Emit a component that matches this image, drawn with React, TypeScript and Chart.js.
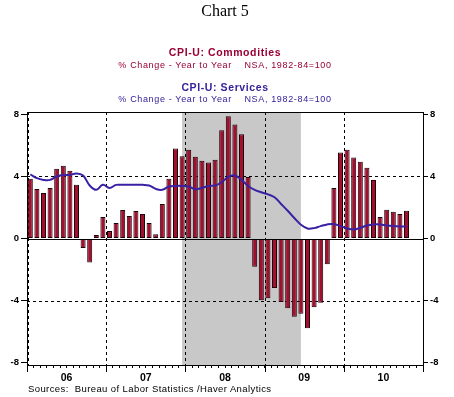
import React, { useEffect, useRef } from "react";
import { Chart, registerables } from "chart.js";

Chart.register(...registerables);

// ---- data ----
const years = ["06", "07", "08", "09", "10"];
const monthNames = ["Jan", "Feb", "Mar", "Apr", "May", "Jun", "Jul", "Aug", "Sep", "Oct", "Nov", "Dec"];

// CPI-U Commodities, % change year to year (Jan 2006 .. Oct 2010)
const commodities = [
  3.85, 3.2, 2.94, 3.26, 4.5, 4.69, 4.37, 3.46, -0.62, -1.55, 0.22, 1.38,
  0.48, 1.0, 1.84, 1.45, 1.77, 1.58, 1.0, 0.28, 2.23, 3.85, 5.8, 5.3,
  5.73, 5.28, 5.02, 4.91, 5.08, 6.98, 7.89, 7.35, 6.72, 3.96, -1.83, -3.98,
  -3.85, -3.2, -4.09, -4.5, -5.05, -4.86, -5.79, -4.43, -4.15, -1.66, 3.26, 5.54,
  5.73, 5.23, 4.95, 4.56, 3.78, 1.38, 1.86, 1.73, 1.58, 1.79,
];

// CPI-U Services, % change year to year (Jan 2006 .. Oct 2010)
const services = [
  4.13, 3.89, 3.78, 3.78, 4.0, 4.1, 4.1, 4.2, 4.06, 3.42, 3.14, 3.46,
  3.26, 3.46, 3.46, 3.46, 3.46, 3.46, 3.42, 3.2, 3.14, 3.35, 3.39, 3.39,
  3.35, 3.18, 3.26, 3.39, 3.42, 3.63, 3.98, 4.07, 3.78, 3.39, 3.14, 2.98,
  2.85, 2.66, 2.23, 1.79, 1.32, 0.89, 0.65, 0.67, 0.8, 0.91, 0.93, 0.8,
  0.65, 0.58, 0.69, 0.84, 0.91, 0.91, 0.84, 0.8, 0.78, 0.78,
];

const yTicks = [-8, -4, 0, 4, 8];
const dashedLevels = [4, -4];
// recession shading: Dec 2007 .. Jun 2009 (month midpoints)
const recessionStart = "Dec 07";
const recessionEnd = "Jun 09";

const categories: string[] = [];
years.forEach((yy) => monthNames.forEach((m) => categories.push(m + " " + yy)));

const pad = (arr: number[]) => categories.map((_, i) => (i < arr.length ? arr[i] : null));

const BAR = "#a21030";
const LINE = "#3a20a5";
const tickFont = { family: "'Liberation Sans', Arial, sans-serif", size: 9.5, weight: "bold" as const };

const decor = {
  id: "decor",
  beforeDatasetsDraw(chart: any) {
    const { ctx, chartArea: a, scales } = chart;
    const x = scales.x;
    const y = scales.y;
    const slot = (a.right - a.left) / categories.length;
    ctx.save();
    // recession shading
    const xs = x.getPixelForValue(categories.indexOf(recessionStart));
    const xe = x.getPixelForValue(categories.indexOf(recessionEnd));
    ctx.fillStyle = "#c8c8c8";
    ctx.fillRect(xs, a.top, xe - xs, a.bottom - a.top);
    // dashed grid
    ctx.strokeStyle = "#000";
    ctx.lineWidth = 1;
    ctx.setLineDash([3, 3]);
    dashedLevels.forEach((v) => {
      const py = Math.round(y.getPixelForValue(v)) + 0.5;
      ctx.beginPath();
      ctx.moveTo(a.left, py);
      ctx.lineTo(a.right, py);
      ctx.stroke();
    });
    years.forEach((_, k) => {
      let px = Math.round(a.left + k * 12 * slot) + 0.5;
      if (k === 0) px += 1;
      ctx.beginPath();
      ctx.moveTo(px, a.top);
      ctx.lineTo(px, a.bottom);
      ctx.stroke();
    });
    ctx.restore();
  },
  afterDatasetsDraw(chart: any) {
    const { ctx, chartArea: a, scales } = chart;
    const y = scales.y;
    const slot = (a.right - a.left) / categories.length;
    ctx.save();
    ctx.strokeStyle = "#000";
    ctx.lineWidth = 1;
    ctx.setLineDash([]);
    // zero line
    const zy = Math.round(y.getPixelForValue(0)) + 0.5;
    ctx.beginPath();
    ctx.moveTo(a.left, zy);
    ctx.lineTo(a.right, zy);
    ctx.stroke();
    // top border
    ctx.beginPath();
    ctx.moveTo(a.left, Math.round(a.top) + 0.5);
    ctx.lineTo(a.right, Math.round(a.top) + 0.5);
    ctx.stroke();
    // long year ticks
    for (let k = 0; k <= years.length; k++) {
      const px = Math.round(a.left + k * 12 * slot) + 0.5;
      ctx.beginPath();
      ctx.moveTo(px, a.bottom);
      ctx.lineTo(px, a.bottom + 7);
      ctx.stroke();
    }
    ctx.restore();
  },
};

export default function App() {
  const ref = useRef<HTMLCanvasElement | null>(null);

  useEffect(() => {
    if (!ref.current) return;
    const chart = new Chart(ref.current, {
      type: "bar",
      data: {
        labels: categories,
        datasets: [
          {
            type: "line",
            label: "CPI-U: Services",
            data: pad(services),
            borderColor: LINE,
            borderWidth: 2,
            pointRadius: 0,
            tension: 0.4,
            fill: false,
            order: 0,
          } as any,
          {
            type: "bar",
            label: "CPI-U: Commodities",
            data: pad(commodities),
            backgroundColor: BAR,
            borderColor: "#1a0008",
            borderWidth: 1,
            borderSkipped: false,
            barPercentage: 0.76,
            categoryPercentage: 1.0,
            order: 1,
          },
        ],
      },
      options: {
        responsive: false,
        animation: false,
        layout: { padding: { top: 112, left: 0, right: 0, bottom: 0 } },
        plugins: {
          legend: { display: false },
          tooltip: { enabled: false },
        },
        scales: {
          x: {
            type: "category",
            offset: true,
            grid: { display: true, drawOnChartArea: false, offset: true, tickLength: 3, color: "#000", lineWidth: 1 },
            border: { display: true, color: "#000", width: 1 },
            ticks: {
              autoSkip: false,
              maxRotation: 0,
              minRotation: 0,
              labelOffset: 3.3,
              padding: 4,
              color: "#000",
              font: { ...tickFont, size: 10.5 },
              callback: (_v: any, i: number) => (i % 12 === 5 ? years[Math.floor(i / 12)] : ""),
            },
            afterFit(s: any) {
              s.height = 32;
            },
          },
          y: {
            position: "left",
            min: -8.16,
            max: 8.16,
            afterBuildTicks(s: any) {
              s.ticks = yTicks.map((v) => ({ value: v }));
            },
            grid: { drawOnChartArea: false, tickLength: 6, color: "#000" },
            border: { display: true, color: "#000", width: 1 },
            ticks: { padding: 2, color: "#000", font: tickFont, callback: (v: any) => String(v) },
            afterFit(s: any) {
              s.width = 27;
            },
          },
          y2: {
            position: "right",
            min: -8.16,
            max: 8.16,
            afterBuildTicks(s: any) {
              s.ticks = yTicks.map((v) => ({ value: v }));
            },
            grid: { drawOnChartArea: false, tickLength: 5, color: "#000" },
            border: { display: true, color: "#000", width: 1 },
            ticks: { padding: 2, color: "#000", font: tickFont, callback: (v: any) => String(v) },
            afterFit(s: any) {
              s.width = 31;
            },
          },
        },
      },
      plugins: [decor],
    });
    return () => chart.destroy();
  }, []);

  const sans = "'Liberation Sans', Arial, sans-serif";
  const line = (top: number, text: string, style: React.CSSProperties) => (
    <div
      style={{
        position: "absolute",
        left: 0,
        width: 450,
        top,
        textAlign: "center",
        lineHeight: 1,
        whiteSpace: "pre",
        ...style,
      }}
    >
      {text}
    </div>
  );

  return (
    <div style={{ position: "absolute", left: 0, top: 0, width: 454, height: 397, background: "#fff" }}>
      <canvas ref={ref} width={454} height={397} style={{ position: "absolute", left: 0, top: 0 }} />
      {line(2.6, "Chart 5", { fontFamily: "'Liberation Serif', 'Times New Roman', serif", fontSize: 16, color: "#000" })}
      {line(46.8, "CPI-U: Commodities", { fontFamily: sans, fontSize: 10.5, fontWeight: "bold", letterSpacing: 0.6, color: "#990033" })}
      {line(61, "% Change - Year to Year    NSA, 1982-84=100", { fontFamily: sans, fontSize: 9, letterSpacing: 0.65, color: "#990033" })}
      {line(81.8, "CPI-U: Services", { fontFamily: sans, fontSize: 10.5, fontWeight: "bold", letterSpacing: 0.6, color: "#33229a" })}
      {line(94.6, "% Change - Year to Year    NSA, 1982-84=100", { fontFamily: sans, fontSize: 9, letterSpacing: 0.65, color: "#33229a" })}
      <div
        style={{
          position: "absolute",
          left: 28,
          top: 384.3,
          fontFamily: sans,
          fontSize: 9.5,
          letterSpacing: 0.4,
          lineHeight: 1,
          whiteSpace: "pre",
          color: "#000",
        }}
      >
        {"Sources:  Bureau of Labor Statistics /Haver Analytics"}
      </div>
    </div>
  );
}
